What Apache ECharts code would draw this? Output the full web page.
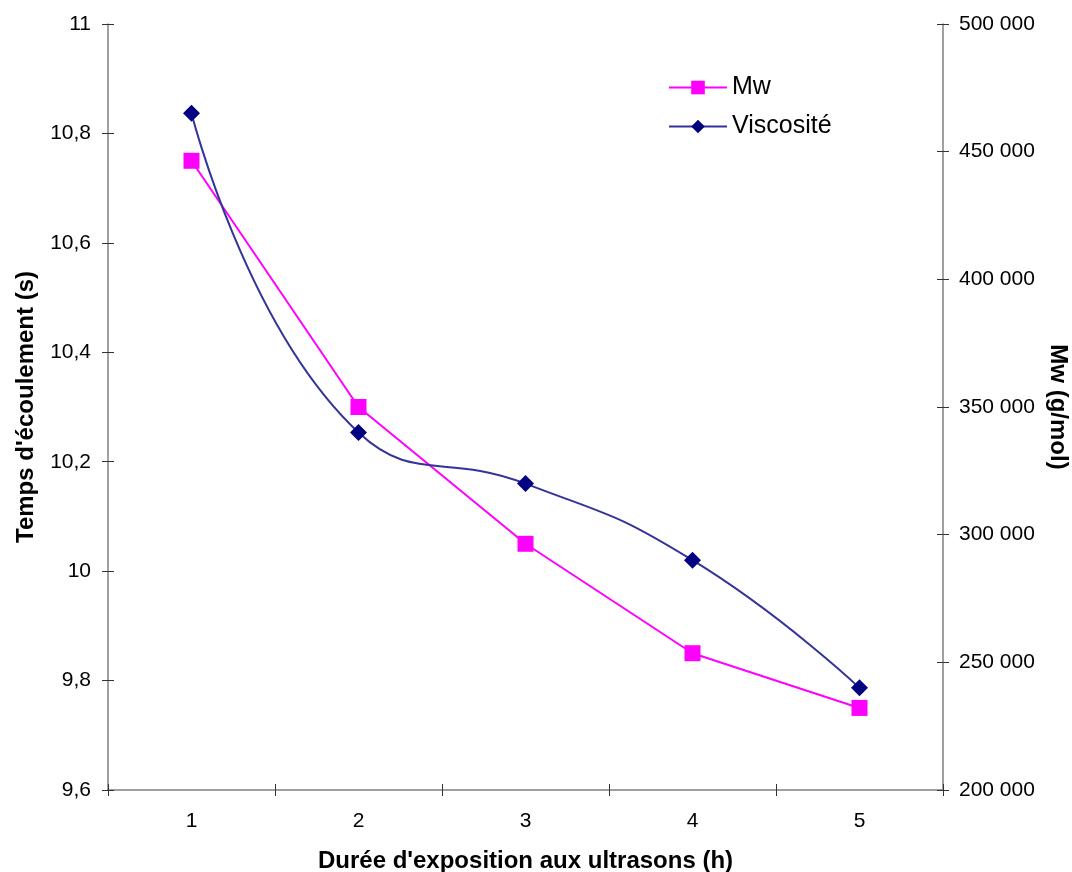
<!DOCTYPE html>
<html>
<head>
<meta charset="utf-8">
<script src="https://cdn.jsdelivr.net/npm/echarts@6/dist/echarts.min.js"></script>
<style>
  html, body { margin: 0; padding: 0; background: #fff; }
  #chart { width: 1072px; height: 872px; }
</style>
</head>
<body>
<div id="chart"></div>
<script>
// heures d'exposition
const hours = ['1', '2', '3', '4', '5'];
// série magenta (axe gauche)
const mwValues = [10.75, 10.3, 10.05, 9.85, 9.75];
// série bleue (axe droit)
const viscValues = [465000, 340000, 320000, 290000, 240000];

const font = 'Liberation Sans, Arial, sans-serif';
const axisColor = '#808080';

const fmtLeft = v => String(Math.round(v * 10) / 10).replace('.', ',');
const fmtRight = v => String(v).replace(/\B(?=(\d{3})+(?!\d))/g, ' ');

const chart = echarts.init(document.getElementById('chart'));

const yLeft = {
    type: 'value',
    min: 9.6,
    max: 11,
    interval: 0.2,
    position: 'left',
    splitLine: {show: false},
    axisLine: {show: true, lineStyle: {color: axisColor, width: 1.5}},
    axisTick: {show: true, length: 6, lineStyle: {color: '#333'}},
    axisLabel: {color: '#000', fontSize: 21, fontFamily: font, margin: 17, formatter: fmtLeft},
    name: "Temps d'écoulement (s)",
    nameLocation: 'middle',
    nameGap: 70,
    nameTextStyle: {color: '#000', fontSize: 24, fontWeight: 'bold', fontFamily: font}
};
const yRight = {
    type: 'value',
    min: 200000,
    max: 500000,
    interval: 50000,
    position: 'right',
    splitLine: {show: false},
    axisLine: {show: true, lineStyle: {color: axisColor, width: 1.5}},
    axisTick: {show: true, length: 6, lineStyle: {color: '#333'}},
    axisLabel: {color: '#000', fontSize: 21, fontFamily: font, margin: 16, formatter: fmtRight},
    name: 'Mw (g/mol)',
    nameLocation: 'middle',
    nameGap: 103,
    nameRotate: -90,
    nameTextStyle: {color: '#000', fontSize: 24, fontWeight: 'bold', fontFamily: font}
};
// copies only for the inner half of crossing ticks
const innerTicks = (base) => Object.assign({}, base, {
    name: '',
    axisLine: {show: false},
    axisLabel: {show: false},
    axisTick: {show: true, inside: true, length: 6, lineStyle: {color: '#333'}}
});

chart.setOption({
    animation: false,
    backgroundColor: '#fff',
    grid: {left: 108, right: 129, top: 24, bottom: 82, outerBoundsMode: 'none'},
    legend: {
        orient: 'vertical',
        left: 663,
        top: 70,
        itemWidth: 58,
        itemHeight: 17,
        itemGap: 14,
        textStyle: {color: '#000', fontSize: 25, fontFamily: font},
        data: ['Mw', 'Viscosité']
    },
    xAxis: [
        {
            type: 'category',
            data: hours,
            position: 'bottom',
            axisLine: {lineStyle: {color: axisColor, width: 1.5}},
            axisTick: {show: true, length: 6, lineStyle: {color: '#333'}},
            axisLabel: {color: '#000', fontSize: 21, fontFamily: font, margin: 21},
            name: "Durée d'exposition aux ultrasons (h)",
            nameLocation: 'middle',
            nameGap: 59,
            nameTextStyle: {color: '#000', fontSize: 24, fontWeight: 'bold', fontFamily: font}
        },
        {
            type: 'category',
            data: hours,
            position: 'bottom',
            axisLine: {show: false},
            axisLabel: {show: false},
            axisTick: {show: true, inside: true, length: 6, lineStyle: {color: '#333'}}
        }
    ],
    yAxis: [yLeft, yRight, innerTicks(yLeft), innerTicks(yRight)],
    series: [
        {
            name: 'Mw',
            type: 'line',
            yAxisIndex: 0,
            data: mwValues,
            symbol: 'rect',
            symbolSize: 16,
            lineStyle: {color: '#FF00FF', width: 2},
            itemStyle: {color: '#FF00FF'},
            z: 3
        },
        {
            name: 'Viscosité',
            type: 'line',
            yAxisIndex: 1,
            data: viscValues,
            smooth: 0.5,
            symbol: 'diamond',
            symbolSize: 17,
            lineStyle: {color: '#333399', width: 2},
            itemStyle: {color: '#000080'},
            z: 4
        }
    ]
});
</script>
</body>
</html>
